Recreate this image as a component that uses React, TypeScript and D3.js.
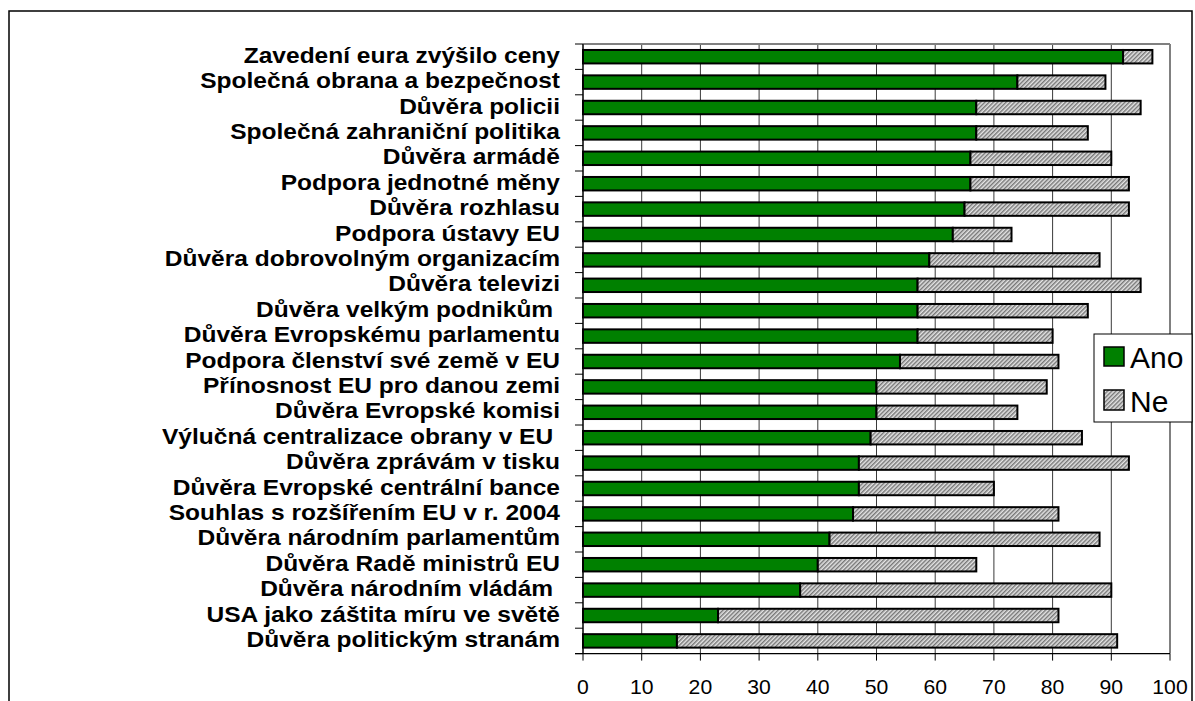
import React from "react";
import * as d3 from "d3";

const categories = [
  "Zavedení eura zvýšilo ceny",
  "Společná obrana a bezpečnost",
  "Důvěra policii",
  "Společná zahraniční politika",
  "Důvěra armádě",
  "Podpora jednotné měny",
  "Důvěra rozhlasu",
  "Podpora ústavy EU",
  "Důvěra dobrovolným organizacím",
  "Důvěra televizi",
  "Důvěra velkým podnikům ",
  "Důvěra Evropskému parlamentu",
  "Podpora členství své země v EU",
  "Přínosnost EU pro danou zemi",
  "Důvěra Evropské komisi",
  "Výlučná centralizace obrany v EU ",
  "Důvěra zprávám v tisku",
  "Důvěra Evropské centrální bance",
  "Souhlas s rozšířením EU v r. 2004",
  "Důvěra národním parlamentům",
  "Důvěra Radě ministrů EU",
  "Důvěra národním vládám ",
  "USA jako záštita míru ve světě",
  "Důvěra politickým stranám",
];

const ano = [92, 74, 67, 67, 66, 66, 65, 63, 59, 57, 57, 57, 54, 50, 50, 49, 47, 47, 46, 42, 40, 37, 23, 16];
const ne = [5, 15, 28, 19, 24, 27, 28, 10, 29, 38, 29, 23, 27, 29, 24, 36, 46, 23, 35, 46, 27, 53, 58, 75];

const xTicks = [0, 10, 20, 30, 40, 50, 60, 70, 80, 90, 100];
const seriesNames = ["Ano", "Ne"];

const W = 1195;
const H = 701;
const plot = { left: 583, right: 1170, top: 44, bottom: 653.6 };

export default function App() {
  const x = d3.scaleLinear().domain([0, 100]).range([plot.left, plot.right]);
  const y = d3
    .scaleBand<string>()
    .domain(categories)
    .range([plot.top, plot.bottom])
    .paddingInner(0.47)
    .paddingOuter(0.235);
  const step = y.step();
  const bw = y.bandwidth();
  const font = "Arial, 'Liberation Sans', sans-serif";

  const stacked = categories.map((c, i) => ({
    c,
    a0: 0,
    a1: ano[i],
    n0: ano[i],
    n1: ano[i] + ne[i],
  }));

  const bandEdges = d3.range(categories.length + 1).map((i) => plot.top + i * step);

  return (
    <div style={{ position: "fixed", left: 0, top: 0 }}>
      <svg width={W} height={H} style={{ display: "block", background: "#fff" }}>
        <defs>
          <pattern id="hatch" width="3" height="3" patternUnits="userSpaceOnUse" patternTransform="rotate(45)">
            <rect width="3" height="3" fill="#e4e4e4" />
            <line x1="0.75" y1="0" x2="0.75" y2="3" stroke="#6a6a6a" strokeWidth="1.3" />
          </pattern>
        </defs>
        {/* outer chart border */}
        <rect x={9} y={11} width={1183} height={900} fill="#fff" stroke="#000" strokeWidth={1.5} />

        {/* gridlines */}
        {xTicks.map((t) => (
          <line
            key={"g" + t}
            x1={x(t)}
            x2={x(t)}
            y1={plot.top}
            y2={plot.bottom}
            stroke={t === 100 ? "#808080" : "#3a3a3a"}
            strokeWidth={t === 100 ? 2 : 1}
          />
        ))}
        {/* top border */}
        <line x1={plot.left} x2={plot.right} y1={plot.top} y2={plot.top} stroke="#808080" strokeWidth={2} />

        {/* bars */}
        {stacked.map((d) => (
          <g key={d.c}>
            <rect
              x={x(d.a0)}
              y={y(d.c)}
              width={x(d.a1) - x(d.a0)}
              height={bw}
              fill="#008000"
              stroke="#000"
              strokeWidth={2}
            />
            <rect
              x={x(d.n0)}
              y={y(d.c)}
              width={x(d.n1) - x(d.n0)}
              height={bw}
              fill="url(#hatch)"
              stroke="#000"
              strokeWidth={2}
            />
          </g>
        ))}

        {/* axes */}
        <line x1={plot.left} x2={plot.left} y1={plot.top} y2={plot.bottom} stroke="#000" strokeWidth={1.2} />
        <line x1={plot.left - 8} x2={plot.right} y1={plot.bottom} y2={plot.bottom} stroke="#000" strokeWidth={1.2} />
        {bandEdges.map((yy, i) => (
          <line key={"yt" + i} x1={plot.left - 8} x2={plot.left} y1={yy} y2={yy} stroke="#000" strokeWidth={1} />
        ))}
        {xTicks.map((t) => (
          <line key={"xt" + t} x1={x(t)} x2={x(t)} y1={plot.bottom} y2={plot.bottom + 7} stroke="#000" strokeWidth={1} />
        ))}

        {/* category labels */}
        {categories.map((c) => (
          <text
            key={"l" + c}
            transform={`translate(560,${(y(c) as number) + bw / 2 + 6}) scale(1.1,1)`}
            textAnchor="end"
            fontFamily={font}
            fontWeight="bold"
            fontSize={22.3}
            fill="#000"
            style={{ whiteSpace: "pre" }}
            xmlSpace="preserve"
          >
            {c}
          </text>
        ))}

        {/* x tick labels */}
        {xTicks.map((t) => (
          <text
            key={"xl" + t}
            transform={`translate(${x(t)},694) scale(1.06,1)`}
            textAnchor="middle"
            fontFamily={font}
            fontSize={20}
            fill="#000"
          >
            {t}
          </text>
        ))}

        {/* legend */}
        <rect x={1094} y={334} width={98} height={88} fill="#fff" stroke="#000" strokeWidth={1} />
        <rect x={1104} y={347} width={20} height={19} fill="#008000" stroke="#000" strokeWidth={1.5} />
        <rect x={1104} y={390} width={20} height={20} fill="url(#hatch)" stroke="#000" strokeWidth={1.5} />
        <text x={1130} y={368} fontFamily={font} fontSize={30} fill="#000">
          {seriesNames[0]}
        </text>
        <text x={1130} y={412} fontFamily={font} fontSize={30} fill="#000">
          {seriesNames[1]}
        </text>
      </svg>
    </div>
  );
}
